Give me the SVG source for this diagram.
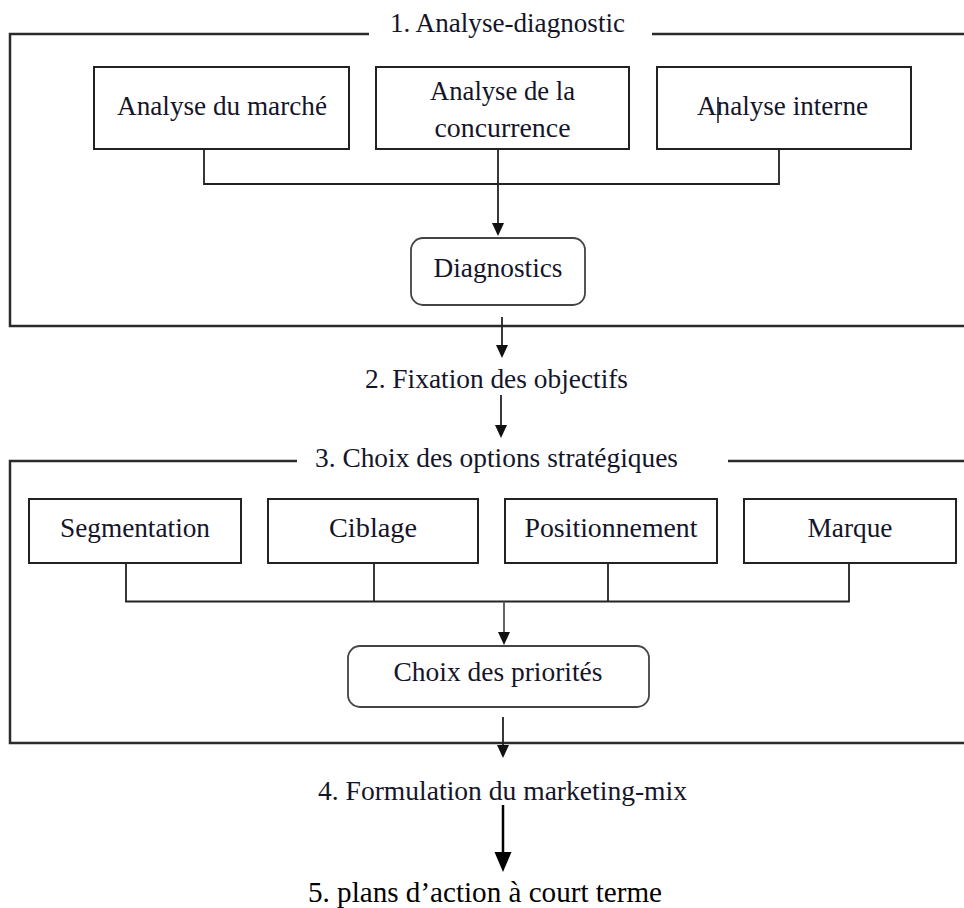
<svg xmlns="http://www.w3.org/2000/svg" width="964" height="908" viewBox="0 0 964 908">
<style>
  .frame { fill: none; stroke: #2b2b2b; stroke-width: 2.5; }
  .box { fill: #ffffff; stroke: #222222; stroke-width: 2; }
  .rbox { fill: #ffffff; stroke: #444444; stroke-width: 1.8; }
  .conn { fill: none; stroke: #222222; stroke-width: 1.8; }
  .conn-light { fill: none; stroke: #555555; stroke-width: 1.8; }
  .lbl { font-family: "Liberation Serif", "Times New Roman", serif; font-size: 28px; fill: #15152a; text-anchor: middle; }
  .big { font-family: "Liberation Serif", "Times New Roman", serif; font-size: 29px; fill: #000000; text-anchor: middle; }
</style>
<defs>
  <marker id="arr" markerUnits="userSpaceOnUse" markerWidth="14" markerHeight="14" refX="7" refY="6" orient="auto">
    <path d="M0,0 L13,6 L0,12 z" fill="#111111"/>
  </marker>
  <marker id="arrBig" markerUnits="userSpaceOnUse" markerWidth="22" markerHeight="20" refX="10" refY="8.5" orient="auto">
    <path d="M0,0 L20,8.5 L0,17 z" fill="#000000"/>
  </marker>
</defs>
<rect width="964" height="908" fill="#ffffff"/>

<g id="frame1">
  <path class="frame" d="M369,34 L10,34 L10,326 L970,326"/>
  <path class="frame" d="M652,34 L970,34"/>
  <text class="lbl" x="507.5" y="32" textLength="235" lengthAdjust="spacingAndGlyphs">1. Analyse-diagnostic</text>
</g>

<g id="frame2">
  <path class="frame" d="M297,461 L10,461 L10,743 L970,743"/>
  <path class="frame" d="M728,461 L970,461"/>
  <text class="lbl" x="496.5" y="467" textLength="363" lengthAdjust="spacingAndGlyphs">3. Choix des options stratégiques</text>
</g>

<g id="connectors">
  <path class="conn" d="M204,149 L204,184 L779,184 L779,149"/>
  <path class="conn" d="M498,149 L498,230" marker-end="url(#arr)"/>
  <path class="conn" d="M502,317 L502,352" marker-end="url(#arr)"/>
  <path class="conn" d="M501,395 L501,432" marker-end="url(#arr)"/>
  <path class="conn" d="M126,563 L126,601.5 L849,601.5 L849,563"/>
  <path class="conn" d="M374,563 L374,601.5"/>
  <path class="conn" d="M608,563 L608,601.5"/>
  <path class="conn-light" d="M504,601.5 L504,639" marker-end="url(#arr)"/>
  <path class="conn" d="M503,717 L503,752" marker-end="url(#arr)"/>
  <path d="M503,805 L503,862" fill="none" stroke="#000000" stroke-width="2.5" marker-end="url(#arrBig)"/>
</g>

<g id="n-marche">
  <rect class="box" x="94" y="67" width="255" height="82"/>
  <text class="lbl" x="222" y="115" textLength="210" lengthAdjust="spacingAndGlyphs">Analyse du marché</text>
</g>
<g id="n-concurrence">
  <rect class="box" x="376" y="67" width="253" height="82"/>
  <text class="lbl" x="502.5" y="100" textLength="145" lengthAdjust="spacingAndGlyphs">Analyse de la</text>
  <text class="lbl" x="502.5" y="137" textLength="136" lengthAdjust="spacingAndGlyphs">concurrence</text>
</g>
<g id="n-interne">
  <rect class="box" x="657" y="67" width="254" height="82"/>
  <text class="lbl" x="782.5" y="115" textLength="171" lengthAdjust="spacingAndGlyphs">Analyse interne</text>
  <line x1="718" y1="97" x2="718" y2="123" stroke="#15152a" stroke-width="1.5"/>
</g>
<g id="n-diagnostics">
  <rect class="rbox" x="411" y="238" width="174" height="67" rx="12" ry="12"/>
  <text class="lbl" x="498" y="277" textLength="129" lengthAdjust="spacingAndGlyphs">Diagnostics</text>
</g>

<g id="n-objectifs">
  <text class="lbl" x="496.5" y="388" textLength="263" lengthAdjust="spacingAndGlyphs">2. Fixation des objectifs</text>
</g>

<g id="n-segmentation">
  <rect class="box" x="29" y="499" width="212" height="64"/>
  <text class="lbl" x="135" y="537" textLength="150" lengthAdjust="spacingAndGlyphs">Segmentation</text>
</g>
<g id="n-ciblage">
  <rect class="box" x="268" y="499" width="210" height="64"/>
  <text class="lbl" x="373" y="537" textLength="88" lengthAdjust="spacingAndGlyphs">Ciblage</text>
</g>
<g id="n-positionnement">
  <rect class="box" x="505" y="499" width="212" height="64"/>
  <text class="lbl" x="611" y="537" textLength="173" lengthAdjust="spacingAndGlyphs">Positionnement</text>
</g>
<g id="n-marque">
  <rect class="box" x="744" y="499" width="212" height="64"/>
  <text class="lbl" x="850" y="537" textLength="85" lengthAdjust="spacingAndGlyphs">Marque</text>
</g>
<g id="n-priorites">
  <rect class="rbox" x="348" y="646" width="301" height="61" rx="12" ry="12"/>
  <text class="lbl" x="498" y="681" textLength="209" lengthAdjust="spacingAndGlyphs">Choix des priorités</text>
</g>

<g id="n-marketing-mix">
  <text class="lbl" x="502.5" y="800" textLength="369" lengthAdjust="spacingAndGlyphs">4. Formulation du marketing-mix</text>
</g>
<g id="n-plans">
  <text class="big" x="485" y="902" textLength="354" lengthAdjust="spacingAndGlyphs">5. plans d’action à court terme</text>
</g>
</svg>
